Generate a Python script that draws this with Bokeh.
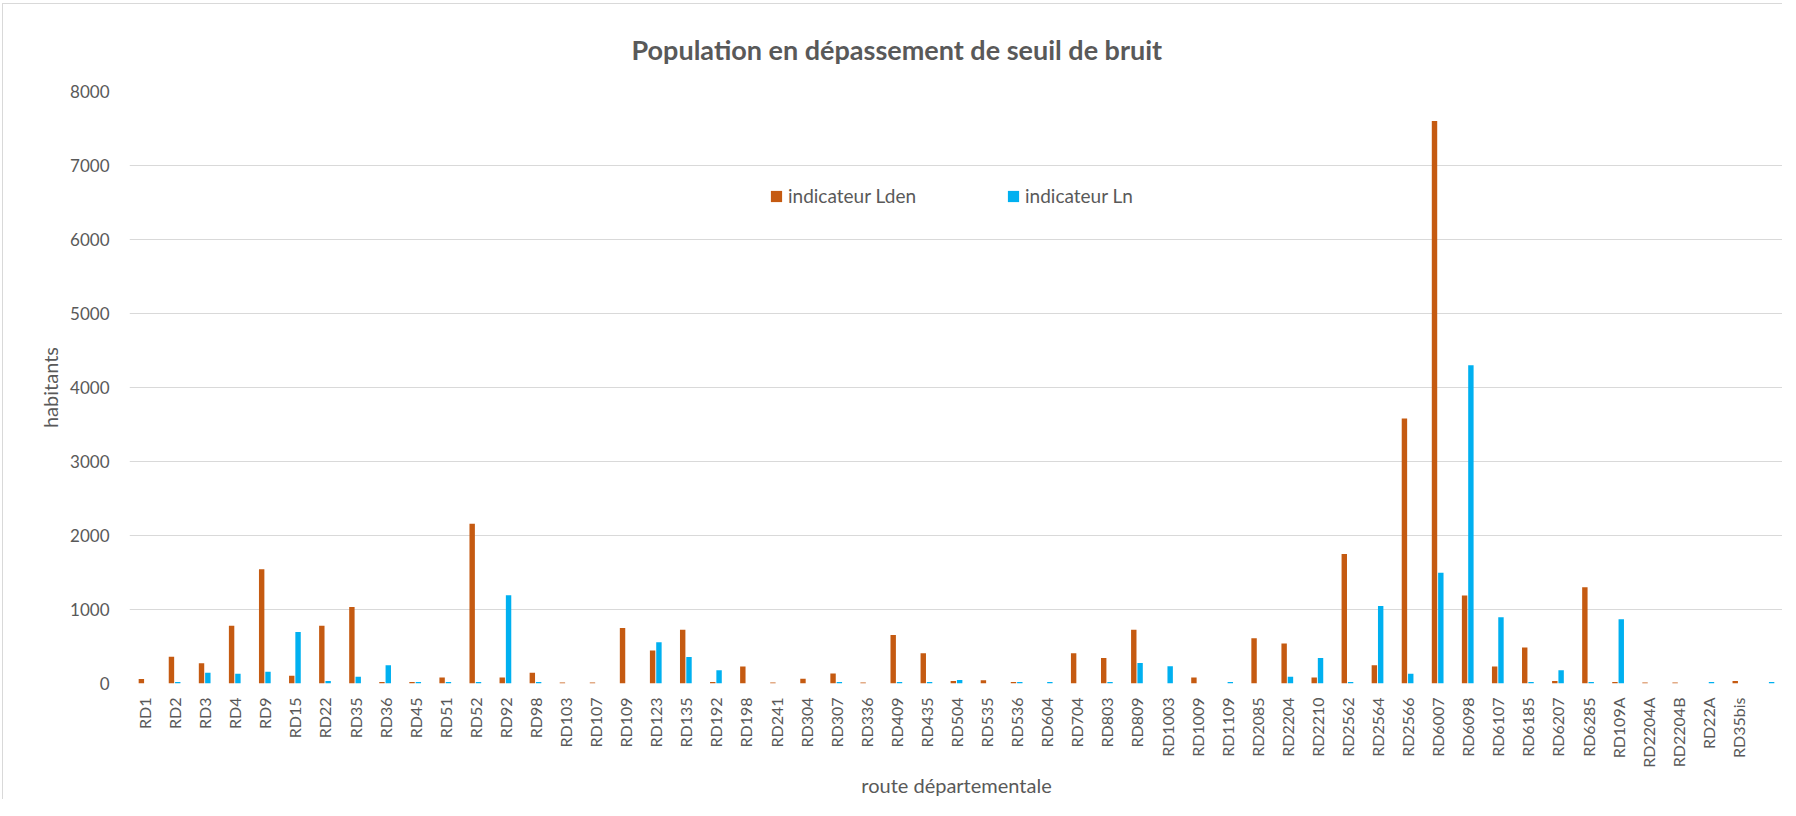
import math
from bokeh.plotting import figure
from bokeh.models import (ColumnDataSource, FactorRange, Range1d, Legend,
                          LegendItem, FixedTicker)
from bokeh.transform import dodge
from bokeh.embed import file_html
from bokeh.resources import INLINE

# ---------------- data ----------------
categories = ["RD1", "RD2", "RD3", "RD4", "RD9", "RD15", "RD22", "RD35", "RD36",
              "RD45", "RD51", "RD52", "RD92", "RD98", "RD103", "RD107", "RD109",
              "RD123", "RD135", "RD192", "RD198", "RD241", "RD304", "RD307",
              "RD336", "RD409", "RD435", "RD504", "RD535", "RD536", "RD604",
              "RD704", "RD803", "RD809", "RD1003", "RD1009", "RD1109", "RD2085",
              "RD2204", "RD2210", "RD2562", "RD2564", "RD2566", "RD6007",
              "RD6098", "RD6107", "RD6185", "RD6207", "RD6285", "RD109A",
              "RD2204A", "RD2204B", "RD22A", "RD35bis", " "]

lden = [60, 360, 275, 780, 1545, 105, 780, 1035, 20,
        20, 80, 2160, 80, 145, 15, 15, 750,
        445, 725, 20, 230, 15, 65, 135,
        15, 655, 410, 35, 45, 20, 0,
        410, 345, 725, 0, 80, 0, 610,
        540, 80, 1750, 245, 3580, 7600,
        1190, 230, 485, 35, 1300, 20,
        15, 15, 0, 35, 0]

ln = [0, 20, 145, 133, 160, 696, 34, 92, 245,
      20, 20, 20, 1192, 20, 0, 0, 0,
      556, 358, 178, 0, 0, 0, 20,
      0, 20, 20, 47, 0, 20, 20,
      0, 20, 277, 232, 0, 20, 0,
      92, 345, 20, 1047, 133, 1497,
      4300, 894, 20, 178, 20, 867,
      0, 0, 20, 0, 20]

y_ticks = [0, 1000, 2000, 3000, 4000, 5000, 6000, 7000, 8000]

title_text = "Population en dépassement de seuil de bruit"
x_title = "route départementale"
y_title = "habitants"
series_names = ["indicateur Lden", "indicateur Ln"]
colors = ["#C55A11", "#00B0F0"]

TEXT = "#595959"
FONT = "Lato"

source = ColumnDataSource(dict(cat=categories, lden=lden, ln=ln))

p = figure(x_range=FactorRange(*categories, range_padding=0),
           y_range=Range1d(0, 8000),
           width=1780, height=796,
           output_backend="svg", toolbar_location=None,
           min_border_left=126, min_border_right=0,
           min_border_top=85, min_border_bottom=117)

p.styles = {"position": "relative", "left": "2px", "top": "3px",
            "border-left": "1px solid #d9d9d9",
            "border-top": "1px solid #d9d9d9"}

r1 = p.vbar(x=dodge("cat", -0.105, range=p.x_range), top="lden", width=0.18,
            source=source, fill_color=colors[0], line_color=None)
r2 = p.vbar(x=dodge("cat", 0.105, range=p.x_range), top="ln", width=0.18,
            source=source, fill_color=colors[1], line_color=None)

# title
p.title.text = title_text
p.title.text_font = FONT
p.title.text_font_size = "27px"
p.title.text_font_style = "bold"
p.title.text_color = TEXT
p.title.align = "left"
p.title.offset = 502
p.title.standoff = 52

# axes
p.xaxis.major_label_orientation = math.pi / 2
p.xaxis.axis_line_color = None
p.xaxis.major_tick_line_color = None
p.xaxis.minor_tick_line_color = None
p.xaxis.major_tick_out = 0
p.xaxis.major_tick_in = 0
p.xaxis.major_label_standoff = 14
p.xaxis.major_label_text_font = FONT
p.xaxis.major_label_text_font_size = "16px"
p.xaxis.major_label_text_color = TEXT
p.xaxis.axis_label = x_title
p.xaxis.axis_label_text_font = FONT
p.xaxis.axis_label_text_font_size = "20px"
p.xaxis.axis_label_text_font_style = "normal"
p.xaxis.axis_label_text_color = TEXT
p.xaxis.axis_label_standoff = 2

p.yaxis.ticker = FixedTicker(ticks=y_ticks)
p.yaxis.axis_line_color = None
p.yaxis.major_tick_line_color = None
p.yaxis.minor_tick_line_color = None
p.yaxis.major_tick_out = 0
p.yaxis.major_tick_in = 0
p.yaxis.major_label_standoff = 20
p.yaxis.major_label_text_font = FONT
p.yaxis.major_label_text_font_size = "17px"
p.yaxis.major_label_text_color = TEXT
p.yaxis.axis_label = y_title
p.yaxis.axis_label_text_font = FONT
p.yaxis.axis_label_text_font_size = "20px"
p.yaxis.axis_label_text_font_style = "normal"
p.yaxis.axis_label_text_color = TEXT
p.yaxis.axis_label_standoff = 5

p.xgrid.visible = False
p.ygrid.grid_line_color = "#d9d9d9"
p.ygrid.grid_line_width = 1
p.outline_line_color = None

legend = Legend(items=[LegendItem(label=series_names[0], renderers=[r1]),
                       LegendItem(label=series_names[1], renderers=[r2])],
                location=(640, 476), orientation="horizontal",
                glyph_width=14, glyph_height=14, label_standoff=5,
                spacing=90, label_width=123, padding=0, margin=0,
                border_line_color=None, background_fill_alpha=0,
                label_text_font=FONT, label_text_font_size="19px",
                label_text_color=TEXT)
p.add_layout(legend)

open("out.html", "w").write(file_html(p, INLINE))
